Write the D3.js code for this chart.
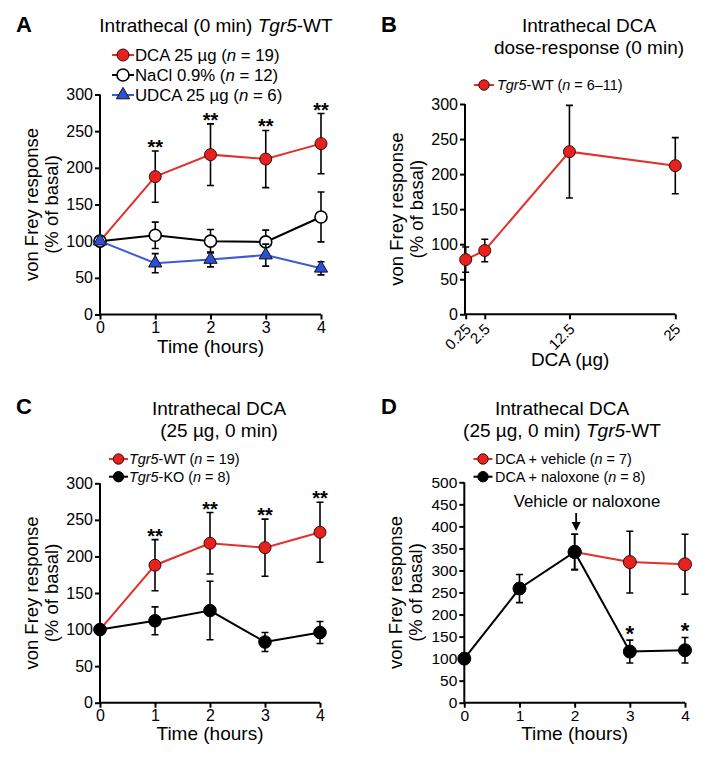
<!DOCTYPE html>
<html><head><meta charset="utf-8">
<script src="https://cdn.jsdelivr.net/npm/d3@7"></script>
<style>
body{margin:0;background:#fff}
text{font-family:"Liberation Sans",Arial,Helvetica,sans-serif;fill:#000}
</style>
</head><body>
<svg id="c" width="719" height="767"></svg>
<script>
// ---------- DATA ----------
const hours = [0, 1, 2, 3, 4];
const timeTicks = [0, 1, 2, 3, 4];
// Panel A
const dcaMean = [100, 188, 218, 212, 233];
const dcaErr  = [0, 35, 42, 39, 41];
const naclMean = [100, 108, 100, 99, 133];
const naclErr  = [0, 18, 16, 16, 34];
const udcaMean = [100, 70, 75, 81, 63];
const udcaErr  = [0, 13, 10, 15, 9];
const starsA = ["", "**", "**", "**", "**"];
// Panel B
const doses = [0.25, 2.5, 12.5, 25];
const doseTickLabels = ["0.25", "2.5", "12.5", "25"];
const doseMean = [78, 91, 232, 212];
const doseErr  = [18, 16, 66, 40];
// Panel C
const wtMean = [100, 188, 218, 212, 233];
const wtErr  = [0, 35, 42, 39, 41];
const koMean = [100, 112, 126, 83, 96];
const koErr  = [0, 19, 40, 13, 15];
const starsC = ["", "**", "**", "**", "**"];
// Panel D
const vehHours = [2, 3, 4];
const vehMean = [342, 319, 314];
const vehErr  = [40, 70, 68];
const naloxMean = [100, 259, 342, 116, 119];
const naloxErr  = [0, 32, 40, 26, 29];
const starsD = ["", "", "", "*", "*"];
const yTicks300 = [0, 50, 100, 150, 200, 250, 300];
const yTicks500 = [0, 50, 100, 150, 200, 250, 300, 350, 400, 450, 500];

// ---------- STYLE ----------
const RED = "#e5221e", REDLINE = "#e2302c", BLUE = "#2c4fd6", BLUELINE = "#3a5bd2";
const FONT = '"Liberation Sans",Arial,Helvetica,sans-serif';
const svg = d3.select("#c");

function richText(sel, parts) {
  parts.forEach(p => {
    sel.append("tspan").text(p[0]).style("font-style", p[1] ? "italic" : "normal");
  });
  return sel;
}

function panel(o) {
  const g = svg.append("g");
  const x = d3.scaleLinear().domain(o.xDomain).range([o.xl, o.xr]);
  const y = d3.scaleLinear().domain(o.yDomain).range([o.yb, o.yt]);
  // letter
  g.append("text").attr("x", o.letterX).attr("y", o.letterY)
    .style("font-size", "22px").style("font-weight", "bold").text(o.letter);
  // title
  o.title.forEach((line, i) => {
    const t = g.append("text").attr("x", o.titleX).attr("y", o.titleY + i * 22)
      .attr("text-anchor", "middle").style("font-size", "19px");
    richText(t, line);
  });
  // axes
  const yAx = d3.axisLeft(y).tickValues(o.yTicks).tickSize(5).tickPadding(2).tickSizeOuter(0)
    .tickFormat(d3.format("d"));
  const gy = g.append("g").attr("transform", `translate(${o.axisX},0)`).call(yAx);
  gy.selectAll("text").style("font-size", o.tickFont + "px").style("font-family", FONT);
  const xAx = d3.axisBottom(x).tickValues(o.xTicks).tickSize(5).tickPadding(2).tickSizeOuter(0)
    .tickFormat(o.xTickLabels ? ((d, i) => o.xTickLabels[i]) : d3.format("d"));
  const gx = g.append("g").attr("transform", `translate(0,${o.yb})`).call(xAx);
  gx.selectAll("text").style("font-size", (o.xTickFont || o.tickFont) + "px").style("font-family", FONT);
  if (o.rotateX) {
    gx.selectAll(".tick text").attr("text-anchor", "end").attr("dy", "0.35em")
      .attr("y", 0).attr("transform", "translate(2,12) rotate(-45)");
  }
  // axis domain lines spanning full range
  gy.select(".domain").attr("d", `M0,${o.yb}V${o.yt}`);
  gx.select(".domain").attr("d", `M${o.axisX},0H${o.xr}`);
  [gy, gx].forEach(a => {
    a.selectAll(".domain,.tick line").attr("stroke", "#000").attr("stroke-width", 2);
  });
  // y label
  const ym = (o.yb + o.yt) / 2;
  g.append("text").attr("transform", `translate(${o.axisX - 62},${ym}) rotate(-90)`)
    .attr("text-anchor", "middle").style("font-size", "18.5px").text("von Frey response");
  g.append("text").attr("transform", `translate(${o.axisX - 42},${ym}) rotate(-90)`)
    .attr("text-anchor", "middle").style("font-size", "18.5px").text("(% of basal)");
  // x label
  g.append("text").attr("x", (o.axisX + o.xr) / 2).attr("y", o.yb + o.xLabelDy)
    .attr("text-anchor", "middle").style("font-size", "19px").text(o.xLabel);
  return { g, x, y };
}

function marker(g, kind, cx, cy, r) {
  if (kind === "tri") {
    g.append("path").attr("d", d3.symbol(d3.symbolTriangle, r * r * 2.1)())
      .attr("transform", `translate(${cx},${cy})`)
      .attr("fill", BLUE).attr("stroke", "#111").attr("stroke-width", 1);
  } else {
    const fill = kind === "red" ? RED : kind === "open" ? "#fff" : "#000";
    g.append("circle").attr("cx", cx).attr("cy", cy).attr("r", r)
      .attr("fill", fill).attr("stroke", kind === "red" ? "#3a0a0a" : "#000")
      .attr("stroke-width", kind === "open" ? 1.6 : 1);
  }
}

function series(P, xs, ms, es, kind, lineColor, r) {
  const { g, x, y } = P;
  const pts = xs.map((d, i) => ({ x: d, m: ms[i], e: es[i] }));
  const sg = g.append("g");
  sg.append("path").datum(pts)
    .attr("d", d3.line().x(d => x(d.x)).y(d => y(d.m)))
    .attr("fill", "none").attr("stroke", lineColor).attr("stroke-width", 2);
  pts.forEach(d => {
    if (!d.e) return;
    const cx = x(d.x), t = y(d.m + d.e), b = y(d.m - d.e);
    sg.append("path").attr("d", `M${cx},${t}V${b}M${cx - 3.5},${t}H${cx + 3.5}M${cx - 3.5},${b}H${cx + 3.5}`)
      .attr("stroke", "#000").attr("stroke-width", 1.6).attr("fill", "none");
  });
  pts.forEach(d => marker(sg, kind, x(d.x), y(d.m), r));
}

function stars(P, xs, ms, es, labels, size, off) {
  labels.forEach((s, i) => {
    if (!s) return;
    P.g.append("text").attr("x", P.x(xs[i])).attr("y", P.y(ms[i] + es[i]) + off)
      .attr("text-anchor", "middle").style("font-size", size + "px").style("font-weight", "bold").text(s);
  });
}

function legend(g, items, o) {
  items.forEach((it, i) => {
    const cy = o.y + i * o.dy;
    g.append("line").attr("x1", o.x - o.half).attr("x2", o.x + o.half).attr("y1", cy).attr("y2", cy)
      .attr("stroke", it.line).attr("stroke-width", 2);
    marker(g, it.kind, o.x, cy, o.r);
    const t = g.append("text").attr("x", o.tx).attr("y", cy + o.font * 0.36)
      .style("font-size", o.font + "px");
    richText(t, it.parts);
  });
}

// ---------- PANEL A ----------
const A = panel({
  letter: "A", letterX: 16, letterY: 32,
  title: [[["Intrathecal (0 min) ", false], ["Tgr5", true], ["-WT", false]]], titleX: 216, titleY: 32,
  xDomain: [0, 4], xl: 100, xr: 321, yDomain: [0, 300], yb: 314.5, yt: 94.5, axisX: 100,
  yTicks: yTicks300, xTicks: timeTicks, tickFont: 16, xLabel: "Time (hours)", xLabelDy: 38.5
});
series(A, hours, dcaMean, dcaErr, "red", REDLINE, 6);
series(A, hours, naclMean, naclErr, "open", "#000", 6);
series(A, hours, udcaMean, udcaErr, "tri", BLUELINE, 6);
stars(A, hours, dcaMean, dcaErr, starsA, 20, 3);
legend(A.g, [
  { kind: "red", line: REDLINE, parts: [["DCA 25 µg (", false], ["n", true], [" = 19)", false]] },
  { kind: "open", line: "#000", parts: [["NaCl 0.9% (", false], ["n", true], [" = 12)", false]] },
  { kind: "tri", line: BLUELINE, parts: [["UDCA 25 µg (", false], ["n", true], [" = 6)", false]] }
], { x: 123, y: 55, dy: 20, half: 11, r: 6, tx: 135, font: 16.8 });

// ---------- PANEL B ----------
const B = panel({
  letter: "B", letterX: 381, letterY: 32,
  title: [[["Intrathecal DCA", false]], [["dose-response (0 min)", false]]], titleX: 589, titleY: 32,
  xDomain: [0.25, 25], xl: 465.7, xr: 675.3, yDomain: [0, 300], yb: 314.3, yt: 104, axisX: 465,
  yTicks: yTicks300, xTicks: doses, xTickLabels: doseTickLabels, rotateX: true, tickFont: 16, xTickFont: 15,
  xLabel: "DCA (µg)", xLabelDy: 52
});
series(B, doses, doseMean, doseErr, "red", REDLINE, 6);
legend(B.g, [
  { kind: "red", line: REDLINE, parts: [["Tgr5", true], ["-WT (", false], ["n", true], [" = 6–11)", false]] }
], { x: 484, y: 85, dy: 18, half: 10, r: 5.2, tx: 497, font: 14.4 });

// ---------- PANEL C ----------
const C = panel({
  letter: "C", letterX: 16, letterY: 414,
  title: [[["Intrathecal DCA", false]], [["(25 µg, 0 min)", false]]], titleX: 219, titleY: 415,
  xDomain: [0, 4], xl: 100, xr: 320, yDomain: [0, 300], yb: 702.7, yt: 483.3, axisX: 100,
  yTicks: yTicks300, xTicks: timeTicks, tickFont: 16, xLabel: "Time (hours)", xLabelDy: 37.5
});
series(C, hours, wtMean, wtErr, "red", REDLINE, 6);
series(C, hours, koMean, koErr, "black", "#000", 6.3);
stars(C, hours, wtMean, wtErr, starsC, 20, 3);
legend(C.g, [
  { kind: "red", line: REDLINE, parts: [["Tgr5", true], ["-WT (", false], ["n", true], [" = 19)", false]] },
  { kind: "black", line: "#000", parts: [["Tgr5", true], ["-KO (", false], ["n", true], [" = 8)", false]] }
], { x: 118.5, y: 459, dy: 17.7, half: 9.5, r: 5.2, tx: 129, font: 14.4 });

// ---------- PANEL D ----------
const D = panel({
  letter: "D", letterX: 381, letterY: 414,
  title: [[["Intrathecal DCA", false]], [["(25 µg, 0 min) ", false], ["Tgr5", true], ["-WT", false]]], titleX: 562, titleY: 415,
  xDomain: [0, 4], xl: 464.3, xr: 685, yDomain: [0, 500], yb: 702.7, yt: 482.3, axisX: 464.3,
  yTicks: yTicks500, xTicks: timeTicks, tickFont: 15.5, xLabel: "Time (hours)", xLabelDy: 37.5
});
series(D, vehHours, vehMean, vehErr, "red", REDLINE, 6.5);
series(D, hours, naloxMean, naloxErr, "black", "#000", 6.5);
stars(D, hours, naloxMean, naloxErr, starsD, 22, 1);
legend(D.g, [
  { kind: "red", line: REDLINE, parts: [["DCA + vehicle (", false], ["n", true], [" = 7)", false]] },
  { kind: "black", line: "#000", parts: [["DCA + naloxone (", false], ["n", true], [" = 8)", false]] }
], { x: 483, y: 459, dy: 17.7, half: 9.5, r: 5.2, tx: 495, font: 14.4 });
// annotation
D.g.append("text").attr("x", 587).attr("y", 507).attr("text-anchor", "middle")
  .style("font-size", "16.8px").text("Vehicle or naloxone");
const ax = D.x(2) + 1.5;
D.g.append("line").attr("x1", ax).attr("x2", ax).attr("y1", 513).attr("y2", 524)
  .attr("stroke", "#000").attr("stroke-width", 1.8);
D.g.append("path").attr("d", `M${ax - 4.5},${522}L${ax + 4.5},${522}L${ax},${531}Z`).attr("fill", "#000");
</script>
</body></html>
